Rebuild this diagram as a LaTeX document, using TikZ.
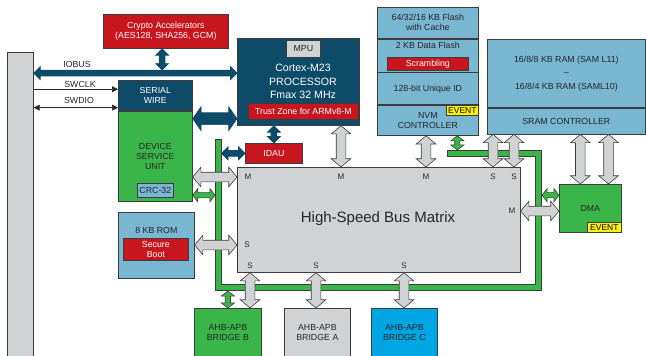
\documentclass[tikz,border=0pt]{standalone}
\usepackage{fontspec}
\setmainfont{Liberation Sans}
\usetikzlibrary{arrows.meta,shapes.arrows,calc}

\definecolor{tidark}{RGB}{13,75,104}
\definecolor{tired}{RGB}{200,22,30}
\definecolor{tigreen}{RGB}{57,181,74}
\definecolor{tiblue}{RGB}{120,182,210}
\definecolor{tigray}{RGB}{209,210,212}
\definecolor{ticyan}{RGB}{0,165,227}
\definecolor{tiyellow}{RGB}{255,242,0}
\definecolor{tiline}{RGB}{60,60,60}

\tikzset{
  blk/.style={draw=tiline, line width=0.7pt, inner sep=0pt, align=center, anchor=north west,
    font=\fontsize{8.8}{10}\selectfont, text=black!85},
  txt/.style={inner sep=0pt, align=center, font=\fontsize{8.8}{10}\selectfont, text=black!85},
  port/.style={inner sep=0pt, font=\fontsize{8}{9}\selectfont, text=black!85},
  evt/.style={blk, fill=tiyellow, minimum width=32pt, minimum height=10pt, font=\fontsize{8.5}{9}\selectfont, text=black},
  fatarr/.style={double arrow, draw=tiline, line width=0.6pt, inner xsep=0pt, minimum width=0pt},
  grayarr/.style={fatarr, fill=tigray, inner ysep=4.5pt, double arrow head extend=5pt, double arrow tip angle=100},
  darkarr/.style={fatarr, draw=tidark, fill=tidark, inner ysep=2.6pt, double arrow head extend=3.6pt, double arrow tip angle=90},
  widearr/.style={darkarr, inner ysep=5.6pt, double arrow head extend=6pt, double arrow tip angle=110},
  greenarr/.style={fatarr, fill=tigreen, inner ysep=2.3pt, double arrow head extend=4pt, double arrow tip angle=105},
  busline/.style={draw=tiline, line width=7pt},
  busfill/.style={draw=tigreen, line width=5.6pt, shorten <=0.7pt, shorten >=0.7pt},
  thinarr/.style={draw=black!85, line width=0.6pt}
}
% fat two-headed arrow between two points
\newcommand\twoway[3]{\path let \p1=($#3-#2$), \n1={veclen(\x1,\y1)} in #2 -- #3 node[midway,sloped,#1,minimum height=\n1]{};}

\begin{document}
\begin{tikzpicture}[x=1pt,y=-1pt,>={Triangle[length=6pt,width=6pt]}]
  \useasboundingbox (0,0) rectangle (646,356);

  % pins
  \node[blk, fill=tigray, minimum width=26pt, minimum height=306pt] (pins) at (7,52) {};

  % debug + cpu
  \node[blk, fill=tired, text=white, minimum width=125pt, minimum height=34pt] (crypto) at (103,14) {Crypto Accelerators\\(AES128, SHA256, GCM)};
  \node[blk, fill=tidark, text=white, minimum width=74pt, minimum height=30pt] (sw) at (118,80) {SERIAL\\WIRE};
  \node[blk, fill=tigreen, minimum width=74pt, minimum height=90pt] (dsu) at (sw.south west) {DEVICE\\SERVICE\\UNIT};
  \node[blk, fill=tiblue, minimum width=36pt, minimum height=14pt] (crc) at (137,183) {CRC-32};
  \node[blk, fill=tidark, minimum width=122pt, minimum height=87pt] (proc) at (237,38) {};
  \node[blk, fill=tigray, minimum width=34pt, minimum height=17pt] (mpu) at (286,40) {MPU};
  \node[txt, text=white, font=\fontsize{10.6}{13.5}\selectfont] (cpu) at (303,81.5) {Cortex-M23\\PROCESSOR\\Fmax 32 MHz};
  \node[blk, fill=tired, text=white, minimum width=110pt, minimum height=16pt] (trust) at (248,103) {Trust Zone for ARMv8-M};
  \node[blk, fill=tired, text=white, minimum width=57pt, minimum height=20pt] (idau) at (245,143) {IDAU};

  % rom
  \node[blk, fill=tiblue, minimum width=76pt, minimum height=66pt] (rom) at (118,212) {};
  \node[txt] (romtxt) at ($(rom.north)+(0,18)$) {8 KB ROM};
  \node[blk, fill=tired, text=white, minimum width=65pt, minimum height=22pt] (boot) at (123,238) {Secure\\Boot};

  % flash column
  \node[blk, fill=tiblue, minimum width=101pt, minimum height=31pt] (fl1) at (377,7) {64/32/16 KB Flash\\with Cache};
  \node[blk, fill=tiblue, minimum width=101pt, minimum height=33pt] (fl2) at (fl1.south west) {};
  \node[txt] (fl2txt) at ($(fl2.north)+(0,7)$) {2 KB Data Flash};
  \node[blk, fill=tired, text=white, minimum width=81pt, minimum height=13pt] (scr) at (387,57) {Scrambling};
  \node[blk, fill=tiblue, minimum width=101pt, minimum height=32pt] (fl3) at (fl2.south west) {128-bit Unique ID};
  \node[blk, fill=tiblue, minimum width=101pt, minimum height=30pt] (nvm) at (fl3.south west) {NVM\\CONTROLLER};
  \node[evt, anchor=north east] (nvmev) at (nvm.north east) {EVENT};

  % sram
  \node[blk, fill=tiblue, minimum width=158pt, minimum height=68pt] (sram) at (487,39) {16/8/8 KB RAM (SAM L11)\\[3.5pt]–\\[3.5pt]16/8/4 KB RAM (SAML10)};
  \node[blk, fill=tiblue, minimum width=158pt, minimum height=26pt] (sramc) at (sram.south west) {SRAM CONTROLLER};

  % dma
  \node[blk, fill=tigreen, minimum width=62pt, minimum height=48pt] (dma) at (559,184) {DMA};
  \node[evt, minimum width=34pt, anchor=south east] (dmaev) at (dma.south east) {EVENT};

  % bus matrix
  \node[blk, fill=tigray, minimum width=283pt, minimum height=105pt] (bm) at (237,167) {};
  \node[txt, font=\fontsize{15}{17}\selectfont] (bmtxt) at (378,219) {High-Speed Bus Matrix};
  \node[port] (mDsu) at (248,177) {M};
  \node[port] (mCpu) at (341,177) {M};
  \node[port] (mNvm) at (426,177) {M};
  \node[port] (sRam1) at (493,177) {S};
  \node[port] (sRam2) at (514,177) {S};
  \node[port] (mDma) at (512,211) {M};
  \node[port] (sRom) at (247,245) {S};
  \node[port] (sBrB) at (250,266) {S};
  \node[port] (sBrA) at (316,266) {S};
  \node[port] (sBrC) at (404,266) {S};

  % bridges
  \node[blk, fill=tigreen, minimum width=67pt, minimum height=48pt] (brb) at (194,308) {AHB-APB\\BRIDGE B};
  \node[blk, fill=tigray, minimum width=66pt, minimum height=48pt] (bra) at (284,308) {AHB-APB\\BRIDGE A};
  \node[blk, fill=ticyan, minimum width=66pt, minimum height=48pt] (brc) at (371,308) {AHB-APB\\BRIDGE C};

  % event bus
  \coordinate (gA) at (447,153.5);
  \coordinate (gB) at (538.5,153.5);
  \coordinate (gC) at (538.5,287.5);
  \coordinate (gD) at (218.5,287.5);
  \coordinate (gE) at (218.5,139);
  \draw[busline] (gA) -- (gB) -- (gC) -- (gD) -- (gE);
  \draw[busfill] (gA) -- (gB) -- (gC) -- (gD) -- (gE);

  % dark links
  \coordinate (cryp) at ($(crypto.south west)!0.47!(crypto.south east)$);
  \coordinate (iobus) at ($(proc.north west)!0.4!(proc.south west)$);
  \coordinate (iotop) at ($(cryp |- iobus)+(0,-3)$);
  \twoway{darkarr}{(cryp)}{(iotop)}
  \twoway{darkarr}{(pins.east |- iobus)}{(iobus)}
  \coordinate (wide) at ($(proc.north west)!0.92!(proc.south west)$);
  \twoway{widearr}{(sw.east |- wide)}{(wide)}
  \twoway{darkarr}{(idau.north)}{(idau.north |- proc.south)}
  \coordinate (idauL) at ($(gE |- idau.west)+(3,0)$);
  \twoway{darkarr}{(idauL)}{(idau.west)}

  % debug lines
  \coordinate (ck) at ($(sw.north west)!0.3!(sw.south west)$);
  \coordinate (dio) at ($(sw.north west)!0.9!(sw.south west)$);
  \draw[thinarr,->] (pins.east |- ck) -- (ck);
  \draw[thinarr,<->] (pins.east |- dio) -- (dio);
  \node[txt] (lio) at (77,64) {IOBUS};
  \node[txt] (lck) at (80,84) {SWCLK};
  \node[txt] (ldio) at (79,100) {SWDIO};

  % green links
  \coordinate (nvmG) at ($(nvm.south west)!0.79!(nvm.south east)$);
  \coordinate (nvmB) at ($(nvmG |- gA)+(0,-3.5)$);
  \twoway{greenarr}{(nvmG)}{(nvmB)}
  \coordinate (dmaG) at ($(dma.north west)!0.23!(dma.south west)$);
  \coordinate (dmaB) at ($(gB |- dmaG)+(3.5,0)$);
  \twoway{greenarr}{(dmaB)}{(dmaG)}
  \coordinate (dsuB) at ($(gE |- dmaG)+(-3.5,0)$);
  \twoway{greenarr}{(dsu.east |- dmaG)}{(dsuB)}
  \coordinate (brbB) at ($(brb.north |- gD)+(0,3.5)$);
  \twoway{greenarr}{(brbB)}{(brb.north)}

  % gray links
  \twoway{grayarr}{(dsu.east |- mDsu)}{(bm.west |- mDsu)}
  \twoway{grayarr}{(rom.east |- sRom)}{(bm.west |- sRom)}
  \twoway{grayarr}{(mCpu |- proc.south)}{(mCpu |- bm.north)}
  \twoway{grayarr}{(mNvm |- nvm.south)}{(mNvm |- bm.north)}
  \twoway{grayarr}{(sRam1 |- sramc.south)}{(sRam1 |- bm.north)}
  \twoway{grayarr}{(sRam2 |- sramc.south)}{(sRam2 |- bm.north)}
  \coordinate (dmaA) at ($(dma.north west)!0.34!(dma.north east)$);
  \coordinate (dmaZ) at ($(dma.north west)!0.79!(dma.north east)$);
  \twoway{grayarr}{(dmaA |- sramc.south)}{(dmaA)}
  \twoway{grayarr}{(dmaZ |- sramc.south)}{(dmaZ)}
  \twoway{grayarr}{(bm.east |- mDma)}{(dma.west |- mDma)}
  \twoway{grayarr}{(sBrB |- bm.south)}{(sBrB |- brb.north)}
  \twoway{grayarr}{(sBrA |- bm.south)}{(sBrA |- bra.north)}
  \twoway{grayarr}{(sBrC |- bm.south)}{(sBrC |- brc.north)}
\end{tikzpicture}
\end{document}
